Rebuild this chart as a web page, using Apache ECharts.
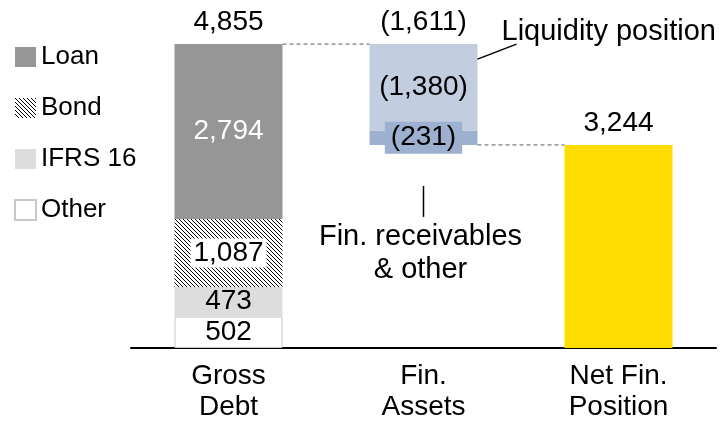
<!DOCTYPE html>
<html><head><meta charset="utf-8">
<script src="https://cdn.jsdelivr.net/npm/echarts@6/dist/echarts.min.js"></script>
<style>html,body{margin:0;padding:0;background:#fff}#c{width:722px;height:426px}</style>
</head><body><div id="c"></div>
<script>
// ---- data ----
const categories = ['Gross\nDebt', 'Fin.\nAssets', 'Net Fin.\nPosition'];
const otherDebt = [502, '-', '-'];
const ifrs16 = [473, '-', '-'];
const bond = [1087, '-', '-'];
const loan = [2794, '-', '-'];
const finBase = ['-', 3244, '-'];        // invisible waterfall base
const finReceivables = ['-', 231, '-'];  // shown as (231)
const liquidity = ['-', 1380, '-'];      // shown as (1,380)
const netFin = ['-', '-', 3244];
const totals = [4855, -1611, null];
const totalBase = [0, 0, '-'];
const legendNames = ['Loan', 'Bond', 'IFRS 16', 'Other'];
const annoLiquidity = 'Liquidity position';
const annoReceivables = 'Fin. receivables\n& other';

const FONT = "'Liberation Sans', Arial, sans-serif";
const FS = 28;
const barW = 108;

function fmt(v) { return v < 0 ? '(' + Math.abs(v).toLocaleString('en-US') + ')' : v.toLocaleString('en-US'); }
function hatch() {
  const c = document.createElement('canvas'); c.width = 4; c.height = 4;
  const g = c.getContext('2d'); g.fillStyle = '#fff'; g.fillRect(0, 0, 4, 4);
  g.fillStyle = '#000'; for (let i = 0; i < 4; i++) g.fillRect(i, i, 1, 1);
  return c;
}
const baseLabel = { show: true, position: 'inside', fontFamily: FONT, fontSize: FS, lineHeight: FS, color: '#000' };

const chart = echarts.init(document.getElementById('c'), null, { renderer: 'canvas' });
const option = {
  animation: false,
  backgroundColor: '#fff',
  grid: { left: 131, right: 6, top: 35, bottom: 78 },
  legend: {
    data: legendNames, orient: 'vertical', left: 14, top: 44, padding: 0,
    icon: 'rect',
    itemWidth: 21, itemHeight: 20, itemGap: 25, itemTextGap: 5,
    textStyle: { fontFamily: FONT, fontSize: 26, lineHeight: 26, color: '#000' },
    selectedMode: false
  },
  xAxis: {
    type: 'category', data: categories,
    axisLine: { lineStyle: { color: '#000', width: 2 } },
    axisTick: { show: false },
    axisLabel: { fontFamily: FONT, fontSize: FS, lineHeight: 31, color: '#000', margin: 13 }
  },
  yAxis: { type: 'value', min: 0, max: 5000, show: false, splitLine: { show: false } },
  series: [
    { name: 'Other', type: 'bar', stack: 's', barWidth: barW, data: otherDebt,
      itemStyle: { color: '#fff', borderColor: '#C8C8C8', borderWidth: 1 },
      label: Object.assign({}, baseLabel, { formatter: p => fmt(p.value) }) },
    { name: 'IFRS 16', type: 'bar', stack: 's', data: ifrs16,
      itemStyle: { color: '#DDDDDD' },
      label: Object.assign({}, baseLabel, { formatter: p => fmt(p.value) }) },
    { name: 'Bond', type: 'bar', stack: 's', data: bond,
      itemStyle: { color: { image: hatch(), repeat: 'repeat' } },
      label: Object.assign({}, baseLabel, { formatter: p => fmt(p.value), backgroundColor: '#fff', padding: [1, 3], lineHeight: 27 }) },
    { name: 'Loan', type: 'bar', stack: 's', data: loan,
      itemStyle: { color: '#969696' },
      label: Object.assign({}, baseLabel, { color: '#fff', formatter: p => fmt(p.value) }) },
    { name: 'base', type: 'bar', stack: 's', data: finBase,
      itemStyle: { color: 'transparent' }, label: { show: false }, silent: true },
    { name: 'Fin. receivables', type: 'bar', stack: 's', data: finReceivables,
      itemStyle: { color: '#9DB0D0' },
      label: Object.assign({}, baseLabel, { formatter: p => fmt(-p.value), backgroundColor: '#9DB0D0', padding: [2, 6] }) },
    { name: 'Liquidity', type: 'bar', stack: 's', data: liquidity,
      itemStyle: { color: '#C2CDE0' },
      label: Object.assign({}, baseLabel, { formatter: p => fmt(-p.value) }) },
    { name: 'Net Fin. Position', type: 'bar', stack: 's', data: netFin,
      itemStyle: { color: '#FFDD00' },
      label: Object.assign({}, baseLabel, { position: 'top', distance: 8, formatter: p => fmt(p.value) }) },
    { name: 'total', type: 'bar', stack: 's', data: totalBase,
      itemStyle: { color: 'transparent' },
      label: Object.assign({}, baseLabel, { position: 'top', distance: 8, formatter: p => fmt(totals[p.dataIndex]) }) }
  ]
};
chart.setOption(option);

// ---- annotations anchored to data coordinates ----
const px = (i, v) => chart.convertToPixel({ gridIndex: 0 }, [i, v]);
const h = barW / 2;
const gTop = px(0, totals[0]);
const fTop = px(1, totals[0]);
const fBot = px(1, finBase[1]);
const nTop = px(2, netFin[2]);
const dash = { stroke: '#7F7F7F', lineWidth: 1.3, lineDash: [4, 3] };
const solid = { stroke: '#000', lineWidth: 1.5 };
chart.setOption({
  graphic: [
    { type: 'line', z: 10, shape: { x1: gTop[0] + h, y1: gTop[1], x2: fTop[0] - h, y2: fTop[1] }, style: dash },
    { type: 'line', z: 10, shape: { x1: fBot[0] + h, y1: fBot[1], x2: nTop[0] - h, y2: nTop[1] }, style: dash },
    { type: 'line', z: 10, shape: { x1: fTop[0] + h, y1: fTop[1] + 15, x2: fTop[0] + h + 39, y2: fTop[1] }, style: solid },
    { type: 'text', z: 10, x: fTop[0] + h + 24, y: fTop[1] - 12,
      style: { text: annoLiquidity, font: '29px ' + FONT, fill: '#000', textVerticalAlign: 'middle', textAlign: 'left' } },
    { type: 'line', z: 10, shape: { x1: fBot[0], y1: fBot[1] + 41, x2: fBot[0], y2: fBot[1] + 72 }, style: solid },
    { type: 'text', z: 10, x: fBot[0] - 3, y: fBot[1] + 76,
      style: { text: annoReceivables, font: '29px ' + FONT, lineHeight: 33, fill: '#000', textAlign: 'center', textVerticalAlign: 'top' } }
  ]
});
</script>
</body></html>
